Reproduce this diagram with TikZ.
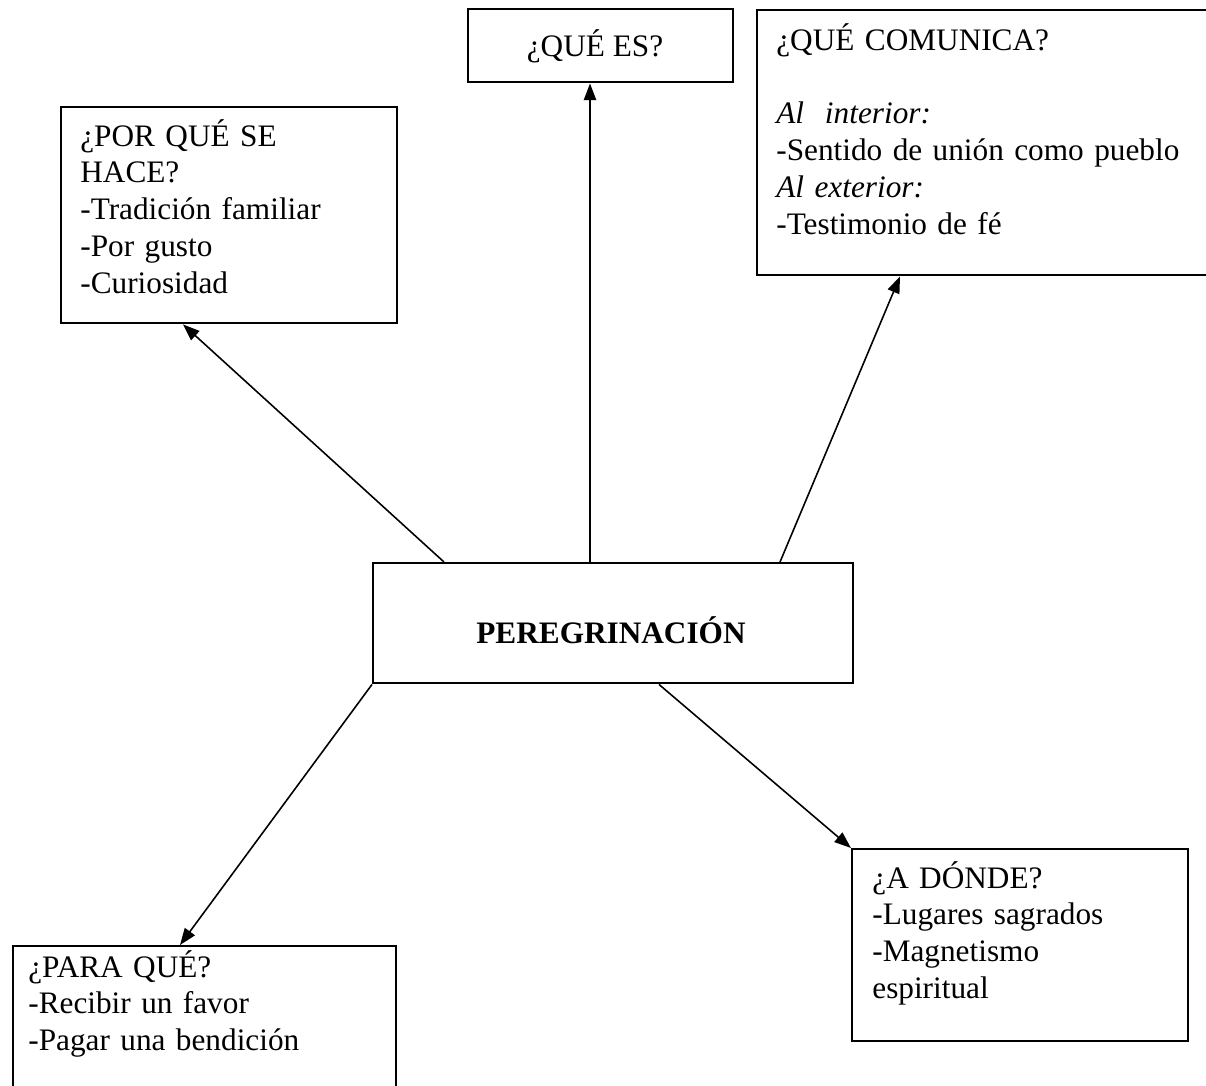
\documentclass[tikz,border=0pt]{standalone}
\usepackage{fontspec}
\setmainfont{Liberation Serif}
\usetikzlibrary{arrows.meta,calc}

\begin{document}
\begin{tikzpicture}[x=0.02cm,y=-0.02cm,
	font=\fontsize{17.8}{21}\selectfont,
	box/.style={draw, line width=1.4pt, inner sep=0pt, anchor=north west},
	txt/.style={anchor=base west, align=left, text width=9.6cm, inner sep=0pt},
	arr/.style={line width=0.9pt, -{Triangle[length=9.5pt,width=7pt]}}]
		\useasboundingbox (0,0) rectangle (1206,1085);
		% cajas
		\node[box, minimum width=5.3cm, minimum height=1.46cm] (quees) at (467,8) {};
		\node[box, minimum width=9.28cm, minimum height=5.3cm] (comunica) at (756,9) {};
		\node[box, minimum width=6.72cm, minimum height=4.32cm] (porque) at (60,106) {};
		\node[box, minimum width=9.6cm, minimum height=2.4cm] (peg) at (372,562) {};
		\node[box, minimum width=6.72cm, minimum height=3.84cm] (adonde) at (851,848) {};
		\node[box, minimum width=7.66cm, minimum height=3cm] (paraque) at (12,945) {};
		% textos
		\node[anchor=base] (queestxt) at (595,56) {¿QUÉ ES?};
		\node[txt] (comunicatxt) at (776,50) {¿QUÉ COMUNICA?\\[21pt]
			\textit{Al\ \ interior:}\\
			-Sentido de unión como pueblo\\
			\textit{Al exterior:}\\
			-Testimonio de fé};
		\node[txt] (porquetxt) at (80,146) {¿POR QUÉ SE\\ HACE?\\ -Tradición familiar\\ -Por gusto\\ -Curiosidad};
		\node[anchor=base] (pegtxt) at (611,643) {\textbf{PEREGRINACIÓN}};
		\node[txt] (adondetxt) at (872,888) {¿A DÓNDE?\\ -Lugares sagrados\\ -Magnetismo\\ espiritual};
		\node[txt] (paraquetxt) at (28,977) {¿PARA QUÉ?\\ -Recibir un favor\\ -Pagar una bendición};
		% flechas
		\draw[arr] ($(peg.north west)+(72,0)$) -- ($(porque.south west)+(123,0)$);
		\draw[arr] ($(peg.north west)+(218,0)$) -- ($(quees.south west)+(123,0)$);
		\draw[arr] ($(peg.north west)+(408,0)$) -- ($(comunica.south west)+(144,0)$);
		\draw[arr] (peg.south west) -- ($(paraque.north west)+(168,0)$);
		\draw[arr] ($(peg.south west)+(287,0)$) -- (adonde.north west);
\end{tikzpicture}
\end{document}
